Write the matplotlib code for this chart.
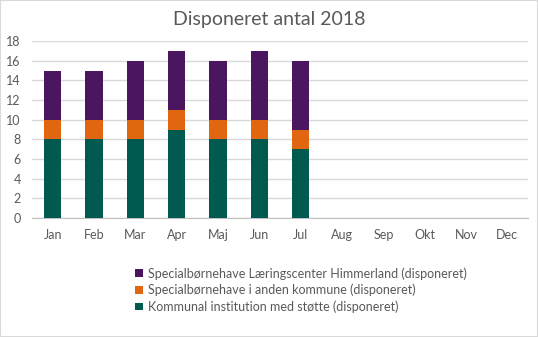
import matplotlib
matplotlib.use("Agg")
import matplotlib.pyplot as plt
import numpy as np

plt.rcParams['font.family'] = ['Lato', 'DejaVu Sans']

months = ['Jan', 'Feb', 'Mar', 'Apr', 'Maj', 'Jun', 'Jul', 'Aug', 'Sep', 'Okt', 'Nov', 'Dec']
kommunal = [8, 8, 8, 9, 8, 8, 7]
anden_kommune = [2, 2, 2, 2, 2, 2, 2]
himmerland = [5, 5, 6, 6, 6, 7, 7]

labels = ['Kommunal institution med støtte (disponeret)',
          'Specialbørnehave i anden kommune (disponeret)',
          'Specialbørnehave Læringscenter Himmerland (disponeret)']
colors = ['#005A50', '#E0670F', '#4A1660']

fig = plt.figure(figsize=(5.38, 3.37), dpi=100)
fig.patches.append(plt.Rectangle((0, 0), 1, 1, transform=fig.transFigure,
                                 fill=False, edgecolor='#D9D9D9', linewidth=1.5))
ax = fig.add_axes([32 / 538, 1 - 218 / 337, 496 / 538, 177 / 337])

x = np.arange(len(kommunal))
w = 0.42
bottom = np.zeros(len(x))
handles = []
for vals, col, lab in zip([kommunal, anden_kommune, himmerland], colors, labels):
    h = ax.bar(x, vals, w, bottom=bottom, color=col, label=lab, zorder=3)
    handles.append(h)
    bottom += np.array(vals)

ax.set_xlim(-0.5, len(months) - 0.5)
ax.set_ylim(0, 18)
ax.set_yticks(range(0, 19, 2))
ax.set_xticks(range(len(months)))
ax.set_xticklabels(months)
ax.yaxis.grid(True, color='#D9D9D9', linewidth=1, zorder=0)
for s in ['top', 'right', 'left']:
    ax.spines[s].set_visible(False)
ax.spines['bottom'].set_color('#BFBFBF')
ax.tick_params(axis='both', length=0, labelsize=9, colors='#595959')
ax.tick_params(axis='x', pad=8)
ax.tick_params(axis='y', pad=8)

fig.text(0.5, 1 - 20 / 337, 'Disponeret antal 2018', ha='center', va='center',
         fontsize=14, color='#595959')

leg = fig.legend(handles[::-1], labels[::-1], loc='upper left',
                 bbox_to_anchor=(124 / 538, 1 - 256 / 337), frameon=False,
                 fontsize=9, handlelength=0.6, handleheight=0.6,
                 handletextpad=0.4, labelspacing=0.32)
for t in leg.get_texts():
    t.set_color('#595959')

fig.savefig('out.png', dpi=100)
